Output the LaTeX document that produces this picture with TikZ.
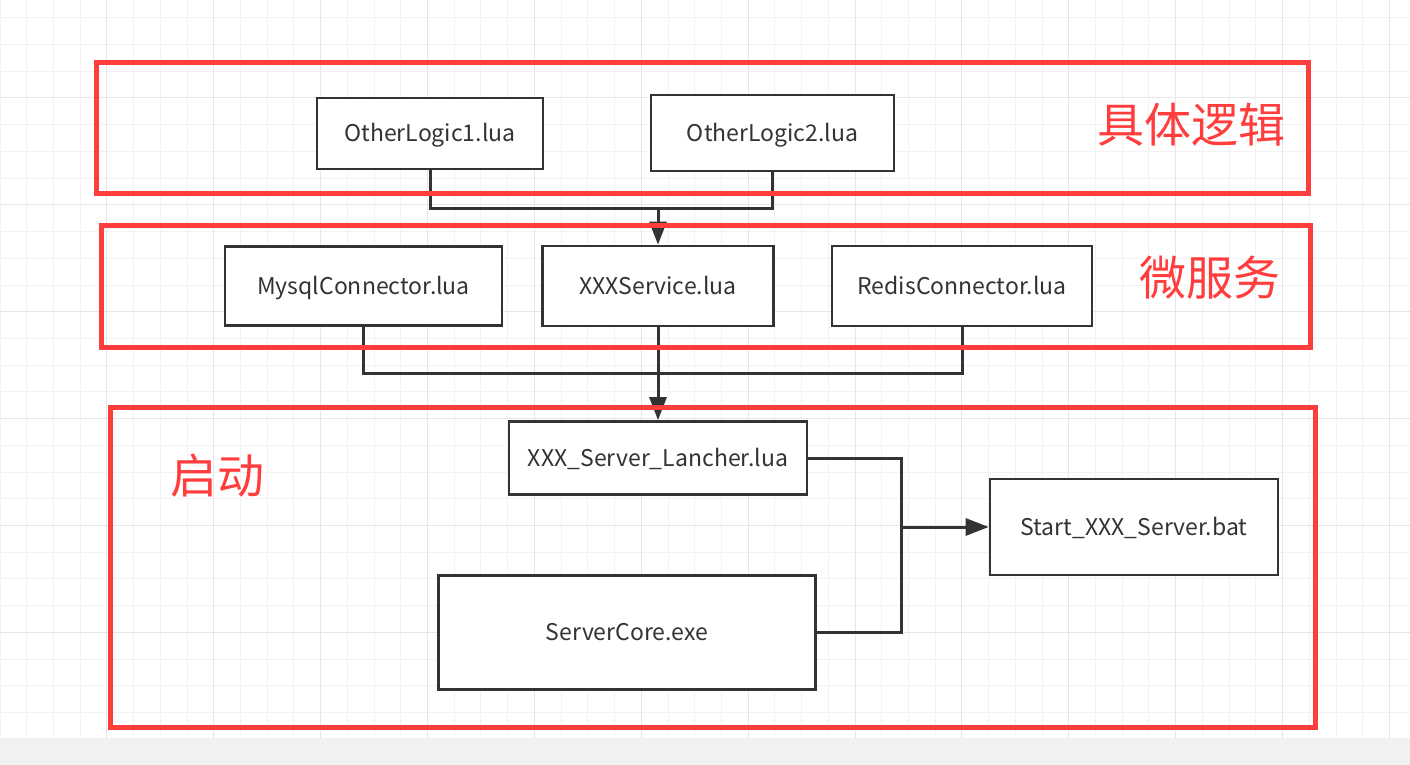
\documentclass[tikz,border=0pt]{standalone}
\usepackage{fontspec}
\setmainfont{Noto Sans CJK SC}
\usepackage{xcolor}
\usepackage{tikz}
\usetikzlibrary{arrows.meta}

\definecolor{zonered}{HTML}{FF3D3D}
\definecolor{inkgray}{HTML}{333333}
\definecolor{gridminor}{HTML}{F2F2F2}
\definecolor{gridmajor}{HTML}{E6E6E6}
\definecolor{bandgray}{HTML}{F1F1F1}

\begin{document}
\begin{tikzpicture}[
    x=1pt, y=-1pt,
    lua_box/.style={rectangle, draw=inkgray, fill=white, line width=2.6pt, inner sep=0pt, text height=16.8pt, text depth=0pt, align=center, text=inkgray, font=\fontsize{23}{27}\selectfont},
    zone_box/.style={rectangle, draw=zonered, line width=5pt, inner sep=0pt},
    zone_tag/.style={text=zonered, inner sep=0pt, font=\fontsize{47}{50}\selectfont},
    minor_line/.style={draw=gridminor, line width=1pt},
    major_line/.style={draw=gridmajor, line width=1pt},
    plain_edge/.style={draw=inkgray, line width=3pt},
    arrow_edge/.style={plain_edge, -{Triangle[length=23pt, width=17pt]}}
]
\useasboundingbox (0,0) rectangle (1410,765);
\fill[white] (0,0) rectangle (1410,738);
\fill[bandgray] (0,738) rectangle (1410,765);
\foreach \k in {0,...,52} \draw[minor_line] (\k*26.72,0) -- (\k*26.72,738);
\foreach \k in {-3,...,24} \draw[minor_line] (0,98+\k*26.72) -- (1410,98+\k*26.72);
\foreach \k in {1,...,13} \draw[major_line] (\k*106.88,0) -- (\k*106.88,738);
\foreach \k in {0,...,5} \draw[major_line] (0,98+\k*106.88) -- (1410,98+\k*106.88);

\node[lua_box, minimum width=226pt, minimum height=71pt] (logic1) at (430,133.5) {OtherLogic1.lua};
\node[lua_box, minimum width=243pt, minimum height=76pt] (logic2) at (772.5,133) {OtherLogic2.lua};
\node[lua_box, minimum width=277pt, minimum height=79pt] (mysql) at (363.5,286) {MysqlConnector.lua};
\node[lua_box, minimum width=231pt, minimum height=80pt] (service) at (658,286) {XXXService.lua};
\node[lua_box, minimum width=260pt, minimum height=80pt] (redis) at (962,286) {RedisConnector.lua};
\node[lua_box, minimum width=298pt, minimum height=73pt] (launcher) at (658,458) {XXX\_Server\_Lancher.lua};
\node[lua_box, minimum width=288pt, minimum height=96pt] (startbat) at (1134,527) {Start\_XXX\_Server.bat};
\node[lua_box, minimum width=377pt, minimum height=114pt] (core) at (627,632.5) {ServerCore.exe};

\coordinate (top_join) at (658,208);
\coordinate (mid_join) at (658,373);
\coordinate (right_join) at (901,527);

\draw[plain_edge] (logic1.south) |- (top_join);
\draw[plain_edge] (logic2.south) |- (top_join);
\draw[arrow_edge] (top_join) -- (service.north);
\draw[plain_edge] (mysql.south) |- (mid_join);
\draw[plain_edge] (redis.south) |- (mid_join);
\draw[arrow_edge] (service.south) -- (launcher.north);
\draw[plain_edge] (launcher.east) -| (right_join);
\draw[plain_edge] (core.east) -| (right_join);
\draw[arrow_edge] (right_join) -- (startbat.west);

\node[zone_box, minimum width=1212pt, minimum height=131pt] (logic_zone) at (702.5,128) {};
\node[zone_box, minimum width=1209pt, minimum height=122.5pt] (service_zone) at (706,286.25) {};
\node[zone_box, minimum width=1204.5pt, minimum height=320pt] (boot_zone) at (712.75,567.5) {};

\node[zone_tag] (logic_tag) at (1191,124.5) {具体逻辑};
\node[zone_tag] (service_tag) at (1209.5,278) {微服务};
\node[zone_tag] (boot_tag) at (217.5,476) {启动};
\end{tikzpicture}
\end{document}
